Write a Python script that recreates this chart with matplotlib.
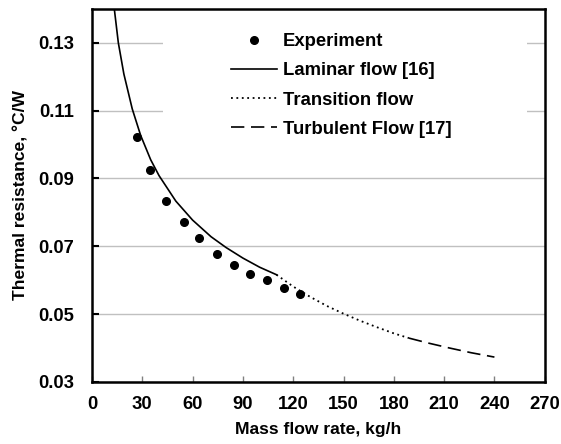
import matplotlib.pyplot as plt
from matplotlib.patches import Rectangle

plt.rcParams['font.family'] = ['Liberation Sans', 'DejaVu Sans']
plt.rcParams['font.weight'] = 'bold'

# Experiment
exp_flow = [26.8, 34.6, 44.3, 54.6, 63.8, 74.7, 84.6, 94.2, 104.5, 114.6, 124.2]
exp_res = [0.1021, 0.0924, 0.0834, 0.0770, 0.0723, 0.0676, 0.0646, 0.0617, 0.0600, 0.0578, 0.0560]

# Laminar flow [16]
lam_flow = [13.3, 15.7, 19, 24, 29, 35, 40, 50, 60, 71, 80, 90, 100, 110]
lam_res = [0.1400, 0.1300, 0.1208, 0.1105, 0.1027, 0.0955, 0.0908, 0.0833, 0.0777,
           0.0728, 0.0696, 0.0665, 0.0638, 0.0616]

# Transition flow
tr_flow = [110, 120, 130, 140, 150, 160, 170, 180, 189]
tr_res = [0.0616, 0.0581, 0.0551, 0.0524, 0.0501, 0.0480, 0.0461, 0.0443, 0.0429]

# Turbulent flow [17]
tu_flow = [189, 200, 213, 226, 240]
tu_res = [0.0429, 0.0415, 0.0400, 0.0386, 0.0373]

fig = plt.figure(figsize=(5.61, 4.44), dpi=100)
ax = fig.add_axes([0.164, 0.14, 0.807, 0.84])

ax.set_axisbelow(True)
ax.yaxis.grid(True, color='#c0c0c0', linewidth=1.0)

# white box behind the legend hides the gridlines there
ax.add_patch(Rectangle((0.157, 0.63), 0.803, 0.37, transform=ax.transAxes,
                       facecolor='white', edgecolor='none', zorder=1))

ax.plot(exp_flow, exp_res, 'o', color='black', markersize=5.5, label='Experiment', zorder=3)
ax.plot(lam_flow, lam_res, '-', color='black', linewidth=1.2, label='Laminar flow [16]')
ax.plot(tr_flow, tr_res, color='black', linewidth=1.3, linestyle=(0, (1, 2)),
        label='Transition flow')
ax.plot(tu_flow, tu_res, color='black', linewidth=1.2, linestyle=(0, (8, 4)),
        label='Turbulent Flow [17]')

ax.set_xlim(0, 270)
ax.set_ylim(0.03, 0.14)
ax.set_xticks(range(0, 271, 30))
ax.set_yticks([0.03, 0.05, 0.07, 0.09, 0.11, 0.13])
ax.set_yticklabels(['0.03', '0.05', '0.07', '0.09', '0.11', '0.13'])
for lbl in ax.get_xticklabels() + ax.get_yticklabels():
    lbl.set_fontweight('bold')
    lbl.set_fontsize(13.3)

for s in ax.spines.values():
    s.set_linewidth(1.8)
    s.set_color('black')

ax.tick_params(axis='y', direction='in', length=5, width=1.5, pad=13)
ax.tick_params(axis='x', direction='in', length=4, width=1, color='#808080', pad=10)

ax.set_xlabel('Mass flow rate, kg/h', fontsize=12.6, fontweight='bold', labelpad=7)
ax.set_ylabel('Thermal resistance, \u00b0C/W', fontsize=12.6, fontweight='bold', labelpad=7)

leg = ax.legend(loc='upper left', bbox_to_anchor=(0.307, 0.935), frameon=False,
                prop={'size': 13.3, 'weight': 'bold'}, handlelength=2.5,
                handletextpad=0.32, labelspacing=0.66, borderpad=0, borderaxespad=0)

fig.savefig('out.png', dpi=100)
